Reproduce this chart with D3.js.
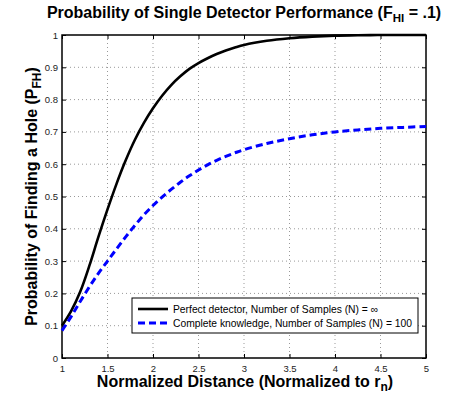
<!DOCTYPE html>
<html>
<head>
<meta charset="utf-8">
<script src="https://cdn.jsdelivr.net/npm/d3@7"></script>
<style>
  body { margin: 0; background: #fff; }
  text { font-family: "Liberation Sans", Arial, sans-serif; }
</style>
</head>
<body>
<div id="chart"></div>
<script>
// normalized distance
const distance = [1.0, 1.1, 1.2, 1.3, 1.4, 1.5, 1.6, 1.7, 1.8, 1.9, 2.0, 2.1, 2.2, 2.3, 2.4, 2.5,
  2.6, 2.7, 2.8, 2.9, 3.0, 3.25, 3.5, 3.75, 4.0, 4.25, 4.5, 4.75, 5.0];

// perfect detector, N = inf
const perfect = [0.10, 0.145, 0.205, 0.285, 0.375, 0.46, 0.54, 0.612, 0.675, 0.728, 0.773, 0.812, 0.845, 0.872, 0.895, 0.913,
  0.928, 0.941, 0.952, 0.961, 0.969, 0.982, 0.99, 0.995, 0.998, 0.999, 1.0, 1.0, 1.0];

// complete knowledge, N = 100
const complete = [0.085, 0.128, 0.175, 0.22, 0.262, 0.30, 0.338, 0.375, 0.41, 0.443, 0.472, 0.498, 0.522, 0.544, 0.564, 0.582,
  0.598, 0.612, 0.624, 0.635, 0.645, 0.664, 0.679, 0.691, 0.70, 0.706, 0.711, 0.714, 0.717];

const xTicks = [1, 1.5, 2, 2.5, 3, 3.5, 4, 4.5, 5];
const yTicks = [0, 0.1, 0.2, 0.3, 0.4, 0.5, 0.6, 0.7, 0.8, 0.9, 1];

const seriesNames = ["Perfect detector, Number of Samples (N) = \u221e",
  "Complete knowledge, Number of Samples (N) = 100"];

const W = 456, H = 398;
const margin = { top: 35, right: 30, bottom: 40, left: 62 };
const width = W - margin.left - margin.right;   // 364
const height = H - margin.top - margin.bottom;  // 323

const svg = d3.select("#chart").append("svg")
  .attr("width", W)
  .attr("height", H);

const g = svg.append("g")
  .attr("transform", `translate(${margin.left},${margin.top})`);

const x = d3.scaleLinear().domain([1, 5]).range([0, width]);
const y = d3.scaleLinear().domain([0, 1]).range([height, 0]);

// dotted grid
g.append("g").selectAll("line")
  .data(xTicks.slice(1, -1))
  .join("line")
  .attr("x1", d => x(d)).attr("x2", d => x(d))
  .attr("y1", 0).attr("y2", height)
  .attr("stroke", "#999").attr("stroke-width", 1)
  .attr("stroke-dasharray", "1,3");

g.append("g").selectAll("line")
  .data(yTicks.slice(1, -1))
  .join("line")
  .attr("x1", 0).attr("x2", width)
  .attr("y1", d => y(d)).attr("y2", d => y(d))
  .attr("stroke", "#999").attr("stroke-width", 1)
  .attr("stroke-dasharray", "1,3");

// axes (ticks inward)
const fmt = d => d3.format("~g")(d);
const xAxis = g.append("g")
  .attr("transform", `translate(0,${height})`)
  .call(d3.axisBottom(x).tickValues(xTicks).tickFormat(fmt).tickSize(-4).tickPadding(7).tickSizeOuter(0));
const yAxis = g.append("g")
  .call(d3.axisLeft(y).tickValues(yTicks).tickFormat(fmt).tickSize(-4).tickPadding(4).tickSizeOuter(0));
g.append("g")
  .call(d3.axisTop(x).tickValues(xTicks).tickFormat("").tickSize(-4).tickSizeOuter(0));
g.append("g")
  .attr("transform", `translate(${width},0)`)
  .call(d3.axisRight(y).tickValues(yTicks).tickFormat("").tickSize(-4).tickSizeOuter(0));

[xAxis, yAxis].forEach(a => {
  a.selectAll("text").attr("font-size", "9.5px").attr("fill", "#222")
    .style("font-family", "'Liberation Sans', Arial, sans-serif");
});
g.selectAll(".domain").remove();

// box
g.append("rect")
  .attr("width", width).attr("height", height)
  .attr("fill", "none").attr("stroke", "#000").attr("stroke-width", 1.5);

const line = d3.line()
  .x((d, i) => x(distance[i]))
  .y(d => y(d))
  .curve(d3.curveCatmullRom);

g.append("path")
  .datum(perfect)
  .attr("fill", "none").attr("stroke", "#000").attr("stroke-width", 2.6)
  .attr("d", line);

g.append("path")
  .datum(complete)
  .attr("fill", "none").attr("stroke", "#0000ff").attr("stroke-width", 3)
  .attr("stroke-dasharray", "7,4")
  .attr("d", line);

// legend
const lg = svg.append("g").attr("transform", "translate(132,298)");
lg.append("rect")
  .attr("width", 286).attr("height", 35)
  .attr("fill", "#fff").attr("stroke", "#000").attr("stroke-width", 1);
const styles = [
  { stroke: "#000", width: 2.6, dash: null },
  { stroke: "#0000ff", width: 3, dash: "7,4" }
];
seriesNames.forEach((name, i) => {
  const yy = 11 + i * 14;
  lg.append("line")
    .attr("x1", 6).attr("x2", 36).attr("y1", yy).attr("y2", yy)
    .attr("stroke", styles[i].stroke).attr("stroke-width", styles[i].width)
    .attr("stroke-dasharray", styles[i].dash);
  lg.append("text")
    .attr("x", 41).attr("y", yy).attr("dy", "0.35em")
    .attr("font-size", "10.3px").attr("fill", "#000")
    .text(name);
});

// title
const title = svg.append("text")
  .attr("x", 244).attr("y", 18)
  .attr("text-anchor", "middle")
  .attr("font-size", "16px").attr("font-weight", "bold")
  .text("Probability of Single Detector Performance (F");
title.append("tspan").attr("baseline-shift", "-35%").attr("font-size", "11.5px").text("HI");
title.append("tspan").text(" = .1)");

// x label
const xl = svg.append("text")
  .attr("x", 245).attr("y", 387)
  .attr("text-anchor", "middle")
  .attr("font-size", "16px").attr("font-weight", "bold")
  .text("Normalized Distance (Normalized to r");
xl.append("tspan").attr("baseline-shift", "-35%").attr("font-size", "12px").text("n");
xl.append("tspan").text(")");

// y label
const yl = svg.append("text")
  .attr("transform", `translate(37,${margin.top + height / 2}) rotate(-90)`)
  .attr("text-anchor", "middle")
  .attr("font-size", "16px").attr("font-weight", "bold")
  .text("Probability of Finding a Hole (P");
yl.append("tspan").attr("baseline-shift", "-35%").attr("font-size", "12px").text("FH");
yl.append("tspan").text(")");
</script>
</body>
</html>
